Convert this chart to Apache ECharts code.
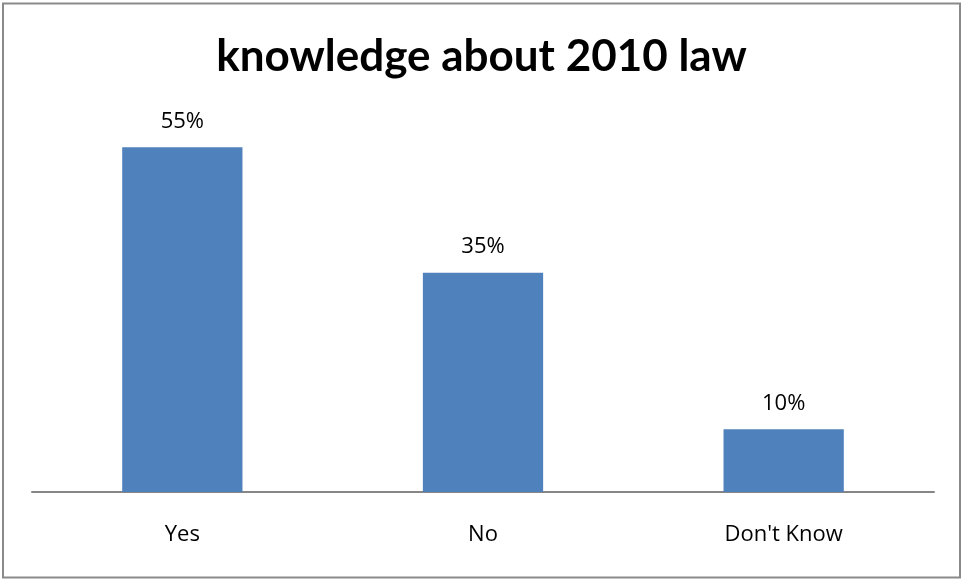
<!DOCTYPE html>
<html>
<head>
<meta charset="utf-8">
<script src="https://cdn.jsdelivr.net/npm/echarts@6/dist/echarts.min.js"></script>
<style>
  html, body { margin: 0; padding: 0; background: #fff; }
  #chart { width: 963px; height: 581px; }
</style>
</head>
<body>
<div id="chart"></div>
<script>
// Survey answers: awareness of the 2010 law
const categories = ['Yes', 'No', "Don't Know"];
const percentValues = [55, 35, 10];

const chart = echarts.init(document.getElementById('chart'));
chart.setOption({
  backgroundColor: '#ffffff',
  animation: false,
  graphic: [{
    type: 'rect',
    shape: { x: 3, y: 3.5, width: 957, height: 574 },
    style: { fill: 'none', stroke: '#8a8a8a', lineWidth: 2 },
    silent: true
  }],
  title: {
    text: 'knowledge about 2010 law',
    left: 'center',
    top: 30,
    textStyle: {
      fontFamily: 'Lato, "Open Sans", sans-serif',
      fontWeight: 'bold',
      fontSize: 44,
      color: '#000'
    }
  },
  grid: { left: 32, right: 29, top: 116, bottom: 89 },
  xAxis: {
    type: 'category',
    data: categories,
    axisLine: { lineStyle: { color: '#868686', width: 2 } },
    axisTick: { show: false },
    axisLabel: {
      margin: 32,
      fontFamily: '"Open Sans", "Noto Sans", sans-serif',
      fontSize: 22,
      color: '#000'
    }
  },
  yAxis: {
    type: 'value',
    min: 0,
    max: 60,
    show: false,
    splitLine: { show: false }
  },
  series: [{
    type: 'bar',
    data: percentValues,
    barWidth: '40%',
    itemStyle: { color: '#4f81bd' },
    label: {
      show: true,
      position: 'top',
      distance: 15,
      formatter: p => p.value + '%',
      fontFamily: '"Open Sans", "Noto Sans", sans-serif',
      fontSize: 22,
      color: '#000'
    }
  }]
});
</script>
</body>
</html>
